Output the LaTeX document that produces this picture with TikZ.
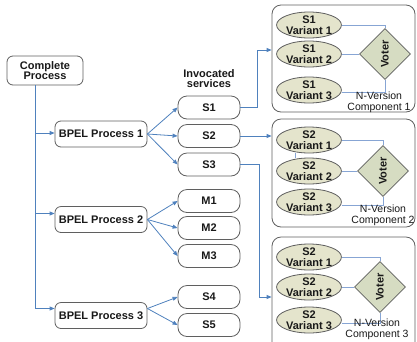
\documentclass[tikz,border=0pt]{standalone}
\usepackage{fontspec}
\setmainfont{Liberation Sans}
\usetikzlibrary{shapes.geometric,arrows.meta}
\definecolor{linkblue}{RGB}{79,129,189}
\definecolor{panelblue}{RGB}{135,165,212}
\definecolor{edgegray}{RGB}{95,95,95}
\definecolor{varfill}{RGB}{228,228,204}
\definecolor{voterfill}{RGB}{214,220,194}
\definecolor{inktext}{RGB}{25,25,25}
\tikzset{
  boldtext/.style={font=\fontsize{11}{10.5}\selectfont\bfseries, text=inktext, align=center},
  procbox/.style={boldtext, draw=edgegray, line width=0.8pt, fill=white, rounded corners=6pt, inner sep=0pt},
  svcbox/.style={boldtext, draw=edgegray, line width=0.8pt, fill=white, rounded corners=9pt,
    minimum width=62pt, minimum height=23pt, inner sep=0pt},
  panel/.style={draw=edgegray, line width=0.8pt, fill=white, rounded corners=9pt,
    minimum width=143pt, inner sep=0pt},
  variant/.style={boldtext, ellipse, draw=edgegray, line width=0.8pt, fill=varfill,
    minimum width=56pt, minimum height=26pt, inner sep=0pt},
  voter/.style={boldtext, diamond, draw=edgegray, line width=0.6pt, fill=voterfill,
    minimum width=51pt, minimum height=51pt, inner sep=0pt},
  ncomp/.style={font=\fontsize{10.5}{10.8}\selectfont, text=inktext, align=center},
  link/.style={draw=linkblue, line width=0.8pt},
  arr/.style={link, -{Triangle[length=5pt,width=4pt]}},
  plink/.style={draw=panelblue, line width=0.8pt},
}
\begin{document}
\begin{tikzpicture}[x=1pt,y=-1pt]
\useasboundingbox (0,0) rectangle (417,341);

% left column: the overall process and its BPEL processes
\node[procbox, minimum width=76pt, minimum height=29pt] (cp) at (45,70.5) {Complete\\Process};
\node[procbox, minimum width=92pt, minimum height=26pt] (bp1) at (101,134) {BPEL Process 1};
\node[procbox, minimum width=92pt, minimum height=26pt] (bp2) at (101,219.5) {BPEL Process 2};
\node[procbox, minimum width=92pt, minimum height=26pt] (bp3) at (101,315.5) {BPEL Process 3};

\coordinate (trunk) at ([xshift=-10pt]cp.south);
\coordinate (e1) at ([yshift=1pt]bp1.west);
\coordinate (e2) at ([yshift=6pt]bp2.west);
\coordinate (e3) at ([yshift=7pt]bp3.west);
\draw[link] (trunk) -- (trunk |- e3);
\draw[arr] (trunk |- e1) -- (e1);
\draw[arr] (trunk |- e2) -- (e2);
\draw[arr] (trunk |- e3) -- (e3);

% invoked services
\node[boldtext] (inv) at (209,78.5) {Invocated\\services};
\node[svcbox] (s1) at (209,107.5) {S1};
\node[svcbox] (s2) at (209,136) {S2};
\node[svcbox] (s3) at (209,164.5) {S3};
\node[svcbox] (m1) at (209,201) {M1};
\node[svcbox] (m2) at (209,228) {M2};
\node[svcbox] (m3) at (209,256) {M3};
\node[svcbox] (s4) at (209,297) {S4};
\node[svcbox] (s5) at (209,325) {S5};

\draw[arr] (bp1.east) -- (s1.west);
\draw[arr] (bp1.east) -- (s2.west);
\draw[arr] (bp1.east) -- (s3.west);
\draw[arr] (bp2.east) -- (m1.west);
\draw[arr] (bp2.east) -- (m2.west);
\draw[arr] (bp2.east) -- (m3.west);
\draw[arr] ([yshift=7pt]bp3.east) -- (s4.west);
\draw[arr] ([yshift=7pt]bp3.east) -- (s5.west);

% N-version components
\node[panel, minimum height=107pt] (p1) at (343.5,58.5) {};
\node[panel, minimum height=108pt] (p2) at (343.5,173) {};
\node[panel, minimum height=115pt] (p3) at (343.5,294.5) {};

\coordinate (in1) at ([yshift=8.5pt]p1.west);
\coordinate (in3) at ([yshift=-2.5pt]p3.west);
\draw[arr] (s1.east) -- ++(17,0) |- (in1);
\draw[arr] (s2.east) -- (s2.east -| p2.west);
\draw[arr] (s3.east) -- ++(19,0) |- (in3);

% component 1
\node[variant] (a1) at (309,25) {S1\\Variant 1};
\node[variant] (a2) at (309,54) {S1\\Variant 2};
\node[variant] (a3) at (309,90) {S1\\Variant 3};
\node[voter] (v1) at (385,54) {\rotatebox{90}{Voter}};
\draw[plink] (a1.east) -| (v1.north);
\draw[plink] (a2.east) -- (v1.west);
\draw[plink] ([yshift=-2pt]a3.east) -| (v1.south);
\node[ncomp] (n1) at (379,102.5) {N-Version\\Component 1};

% component 2
\node[variant] (b1) at (309,140) {S2\\Variant 1};
\node[variant] (b2) at (309,171) {S2\\Variant 2};
\node[variant] (b3) at (309,202) {S2\\Variant 3};
\node[voter] (v2) at (383,171) {\rotatebox{90}{Voter}};
\draw[plink] ([xshift=-14pt]b1.south) -- ([xshift=-14pt]b2.north);
\draw[plink] (b1.east) -| (v2.north);
\draw[plink] (b2.east) -- (v2.west);
\draw[plink] ([yshift=-3pt]b3.east) -| (v2.south);
\node[ncomp] (n2) at (383,215) {N-Version\\Component 2};

% component 3
\node[variant] (c1) at (309,257) {S2\\Variant 1};
\node[variant] (c2) at (309,287) {S2\\Variant 2};
\node[variant] (c3) at (309,320) {S2\\Variant 3};
\node[voter] (v3) at (380,287) {\rotatebox{90}{Voter}};
\draw[plink] (c1.east) -| (v3.north);
\draw[plink] (c2.east) -- (v3.west);
\draw[plink] ([yshift=-3pt]c3.east) -| (v3.south);
\node[ncomp] (n3) at (377,329.5) {N-Version\\Component 3};
\end{tikzpicture}
\end{document}
